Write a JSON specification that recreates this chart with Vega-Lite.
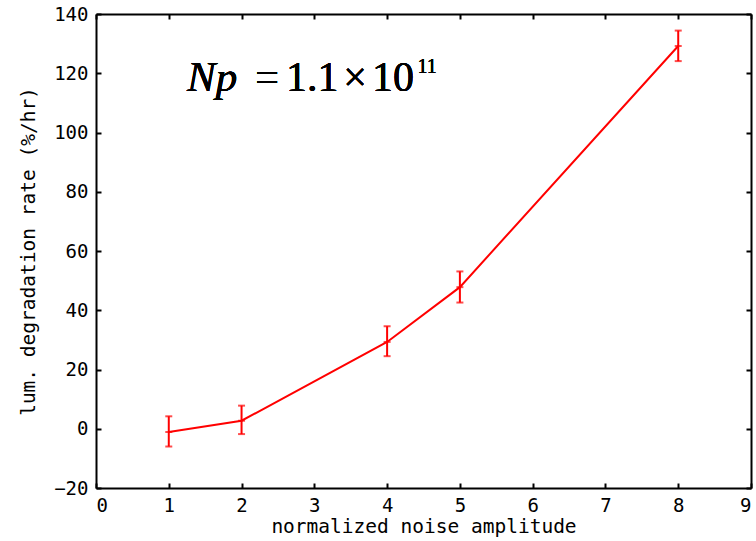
{
  "$schema": "https://vega.github.io/schema/vega-lite/v6.json",
  "width": 655,
  "height": 474,
  "autosize": {"type": "none"},
  "padding": {"left": 96, "top": 14, "right": 5, "bottom": 53},
  "background": "white",
  "config": {
    "view": {"stroke": null},
    "axis": {
      "grid": false,
      "domainColor": "black",
      "domainWidth": 2,
      "tickColor": "black",
      "tickWidth": 2,
      "tickSize": -5,
      "labelFont": "DejaVu Sans Mono",
      "labelFontSize": 19,
      "labelColor": "black",
      "labelPadding": 13,
      "titleFont": "DejaVu Sans Mono",
      "titleFontSize": 19.5,
      "titleFontWeight": "normal",
      "titleColor": "black"
    }
  },
  "data": {
    "values": [
      {"amp": 1, "rate": -1.1, "lo": -6.0, "hi": 4.2},
      {"amp": 2, "rate": 2.7, "lo": -1.8, "hi": 7.8},
      {"amp": 4, "rate": 29.3, "lo": 24.5, "hi": 34.6},
      {"amp": 5, "rate": 47.8, "lo": 42.6, "hi": 53.1},
      {"amp": 8, "rate": 129.2, "lo": 124.1, "hi": 134.4}
    ]
  },
  "resolve": {"axis": {"x": "independent", "y": "independent"}},
  "layer": [
    {
      "mark": {"type": "line", "color": "#ff0000", "strokeWidth": 2},
      "encoding": {
        "x": {
          "field": "amp", "type": "quantitative",
          "scale": {"domain": [0, 9], "nice": false, "zero": false},
          "axis": {"orient": "bottom", "values": [0, 1, 2, 3, 4, 5, 6, 7, 8, 9], "title": "normalized noise amplitude", "titlePadding": 2}
        },
        "y": {
          "field": "rate", "type": "quantitative",
          "scale": {"domain": [-20, 140], "nice": false, "zero": false},
          "axis": {"orient": "left", "values": [-20, 0, 20, 40, 60, 80, 100, 120, 140], "title": "lum. degradation rate (%/hr)", "titlePadding": 15}
        }
      }
    },
    {
      "mark": {"type": "errorbar", "color": "#ff0000", "ticks": {"size": 7, "thickness": 2, "color": "#ff0000"}, "rule": {"strokeWidth": 2, "color": "#ff0000"}},
      "encoding": {
        "x": {"field": "amp", "type": "quantitative", "axis": null},
        "y": {"field": "lo", "type": "quantitative", "axis": null},
        "y2": {"field": "hi"}
      }
    },
    {
      "mark": {"type": "tick", "color": "#ff0000", "size": 7, "thickness": 2, "orient": "horizontal"},
      "encoding": {
        "x": {
          "field": "amp", "type": "quantitative",
          "axis": {"orient": "top", "values": [0, 1, 2, 3, 4, 5, 6, 7, 8, 9], "labels": false, "title": null}
        },
        "y": {
          "field": "rate", "type": "quantitative",
          "axis": {"orient": "right", "values": [-20, 0, 20, 40, 60, 80, 100, 120, 140], "labels": false, "title": null}
        }
      }
    },
    {
      "mark": {"type": "text", "text": "Np", "font": "Liberation Serif", "fontStyle": "italic", "fontSize": 43, "align": "left", "baseline": "alphabetic", "color": "black"},
      "encoding": {
        "x": {"datum": 1.25, "type": "quantitative", "axis": null},
        "y": {"datum": 113.9, "type": "quantitative", "axis": null}
      }
    },
    {
      "mark": {"type": "text", "text": "=", "font": "Liberation Serif", "fontSize": 42, "align": "center", "baseline": "alphabetic", "color": "black"},
      "encoding": {
        "x": {"datum": 2.35, "type": "quantitative", "axis": null},
        "y": {"datum": 113.9, "type": "quantitative", "axis": null}
      }
    },
    {
      "mark": {"type": "text", "text": "1.1", "font": "Liberation Serif", "fontSize": 42, "align": "center", "baseline": "alphabetic", "color": "black"},
      "encoding": {
        "x": {"datum": 2.97, "type": "quantitative", "axis": null},
        "y": {"datum": 113.9, "type": "quantitative", "axis": null}
      }
    },
    {
      "mark": {"type": "text", "text": "×", "font": "Liberation Serif", "fontSize": 42, "align": "center", "baseline": "alphabetic", "color": "black"},
      "encoding": {
        "x": {"datum": 3.56, "type": "quantitative", "axis": null},
        "y": {"datum": 113.9, "type": "quantitative", "axis": null}
      }
    },
    {
      "mark": {"type": "text", "text": "10", "font": "Liberation Serif", "fontSize": 42, "align": "center", "baseline": "alphabetic", "color": "black"},
      "encoding": {
        "x": {"datum": 4.08, "type": "quantitative", "axis": null},
        "y": {"datum": 113.9, "type": "quantitative", "axis": null}
      }
    },
    {
      "mark": {"type": "text", "text": "11", "font": "Liberation Serif", "fontSize": 20, "align": "center", "baseline": "alphabetic", "color": "black"},
      "encoding": {
        "x": {"datum": 4.55, "type": "quantitative", "axis": null},
        "y": {"datum": 120.1, "type": "quantitative", "axis": null}
      }
    }
  ]
}
